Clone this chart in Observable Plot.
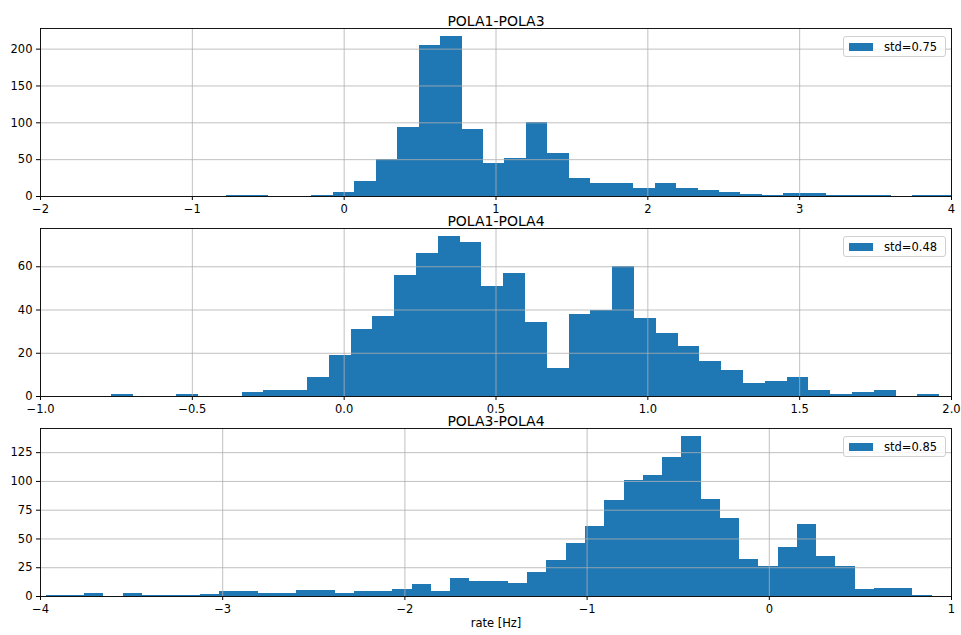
<!DOCTYPE html>
<html>
<head>
<meta charset="utf-8">
<script src="https://cdn.jsdelivr.net/npm/d3@7"></script>
<script src="https://cdn.jsdelivr.net/npm/@observablehq/plot@0.6"></script>
<style>
  html, body { margin: 0; padding: 0; background: #fff; }
  #fig { position: relative; width: 961px; height: 635px; overflow: hidden; font-family: "DejaVu Sans", sans-serif; }
  .panel { position: absolute; left: 0; }
  .panel svg { overflow: visible; }
  .legend { position: absolute; left: 843px; width: 103px; height: 21px; box-sizing: border-box;
            border: 1px solid #d0d0d0; border-radius: 3px; background: rgba(255,255,255,0.8);
            display: flex; align-items: center; padding-left: 5px; font-size: 11.5px; color: #000; }
  .legend .sw { width: 24px; height: 8px; background: #1f77b4; margin-right: 11px; }
</style>
</head>
<body>
<div id="fig"></div>
<script>
// ---- Data ----
const titles = ["POLA1-POLA3", "POLA1-POLA4", "POLA3-POLA4"];
const stdLabels = ["std=0.75", "std=0.48", "std=0.85"];

// POLA1-POLA3 histogram
const pola13Start = -0.778;
const pola13Width = 0.1413;
const pola13Counts = [1, 2, 0, 0, 2, 6, 21, 50, 93, 205,
                      217, 91, 45, 51, 100, 58, 24, 18, 17, 11,
                      17, 11, 8, 6, 3, 1, 4, 4, 1, 2,
                      1, 0, 2, 1];

// POLA1-POLA4 histogram
const pola14Start = -0.767;
const pola14Width = 0.0718;
const pola14Counts = [1, 0, 0, 1, 0, 0, 2, 3, 3, 9,
                      19, 31, 37, 56, 66, 74, 71, 51, 57, 34,
                      13, 38, 40, 60, 36, 29, 23, 16, 12, 6,
                      7, 9, 3, 1, 2, 3, 0, 1];

// POLA3-POLA4 histogram
const pola34Start = -3.969;
const pola34Width = 0.10572;
const pola34Counts = [1, 1, 3, 0, 3, 1, 1, 1, 2, 4,
                      4, 3, 3, 5, 5, 3, 4, 4, 6, 10,
                      4, 16, 13, 13, 11, 21, 31, 46, 61, 83,
                      101, 105, 121, 139, 84, 68, 32, 26, 43, 63,
                      35, 26, 6, 7, 7, 1];

// Axis domains and ticks
const xDomains = [[-2, 4], [-1, 2], [-4, 1]];
const xTicks = [[-2, -1, 0, 1, 2, 3, 4], [-1, -0.5, 0, 0.5, 1, 1.5, 2], [-4, -3, -2, -1, 0, 1]];
const xFormats = ["d", ".1f", "d"];
const yDomains = [[0, 228], [0, 77.7], [0, 146]];
const yTicks = [[0, 50, 100, 150, 200], [0, 20, 40, 60], [0, 25, 50, 75, 100, 125]];
const xLabel = "rate [Hz]";

const histStarts = [pola13Start, pola14Start, pola34Start];
const histWidths = [pola13Width, pola14Width, pola34Width];
const histCounts = [pola13Counts, pola14Counts, pola34Counts];

// ---- Drawing ----
const fig = document.getElementById("fig");
const BLUE = "#1f77b4";
const panelTops = [0, 200, 400];

for (let p = 0; p < 3; p++) {
  const bins = histCounts[p].map((c, i) => ({
    x1: histStarts[p] + i * histWidths[p],
    x2: histStarts[p] + (i + 1) * histWidths[p],
    y: c
  }));
  const last = p === 2;
  const height = last ? 235 : 200;
  const marks = [
    Plot.rectY(bins, {x1: "x1", x2: "x2", y: "y", fill: BLUE, inset: 0, clip: true, shapeRendering: "crispEdges"}),
    Plot.ruleX(xTicks[p], {stroke: "#b0b0b0", strokeWidth: 0.8}),
    Plot.ruleY(yTicks[p], {stroke: "#b0b0b0", strokeWidth: 0.8}),
    Plot.frame({stroke: "#000", strokeWidth: 0.9}),
    Plot.text([titles[p]], {text: d => d, frameAnchor: "top", dy: -12, fontSize: 14, fill: "#000"})
  ];
  if (last) {
    marks.push(Plot.text([xLabel], {text: d => d, frameAnchor: "bottom", dy: 30, fontSize: 11.5, fill: "#000"}));
  }
  const chart = Plot.plot({
    width: 961,
    height,
    marginLeft: 40,
    marginRight: 10,
    marginTop: 28,
    marginBottom: height - 196,
    style: {background: "transparent", fontFamily: "DejaVu Sans, sans-serif", fontSize: "11.5px", color: "#000", overflow: "visible"},
    x: {domain: xDomains[p], ticks: xTicks[p], tickFormat: d3.format(xFormats[p]), tickSize: 4, tickPadding: 4.5, label: null},
    y: {domain: yDomains[p], ticks: yTicks[p], tickSize: 4, tickPadding: 4, label: null},
    marks
  });
  const wrap = document.createElement("div");
  wrap.className = "panel";
  wrap.style.top = panelTops[p] + "px";
  wrap.appendChild(chart);
  fig.appendChild(wrap);

  const leg = document.createElement("div");
  leg.className = "legend";
  leg.style.top = (panelTops[p] + 36) + "px";
  const sw = document.createElement("span");
  sw.className = "sw";
  const tx = document.createElement("span");
  tx.textContent = stdLabels[p];
  leg.appendChild(sw);
  leg.appendChild(tx);
  fig.appendChild(leg);
}
</script>
</body>
</html>
